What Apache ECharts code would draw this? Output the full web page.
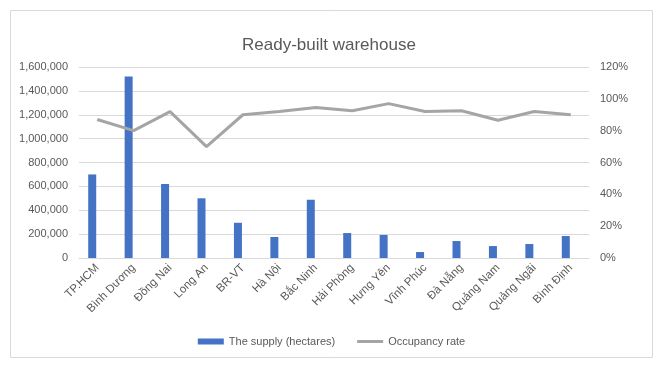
<!DOCTYPE html>
<html>
<head>
<meta charset="utf-8">
<script src="https://cdn.jsdelivr.net/npm/echarts@6/dist/echarts.min.js"></script>
<style>html,body{margin:0;padding:0;background:#fff}#c{width:663px;height:368px}</style>
</head>
<body>
<div id="c"></div>
<script>
var categories = ["TP.HCM","Bình Dương","Đồng Nai","Long An","BR-VT","Hà Nội","Bắc Ninh","Hải Phòng","Hưng Yên","Vĩnh Phúc","Đà Nẵng","Quảng Nam","Quảng Ngãi","Bình Định"];
var supply = [700000,1520000,620000,500000,295000,176000,488000,209000,193000,50000,142000,100000,117000,184000];
var occupancy = [0.87,0.80,0.92,0.70,0.90,0.92,0.945,0.925,0.97,0.92,0.925,0.865,0.92,0.90];
var leftTicks = {min:0, max:1600000, interval:200000};
var rightTicks = {min:0, max:1.2, interval:0.2};

var chart = echarts.init(document.getElementById('c'));
var font = '"Liberation Sans", "Noto Sans", sans-serif';
chart.setOption({
  animation:false,
  textStyle:{fontFamily:font},
  graphic:[{type:'rect',shape:{x:10.5,y:10.5,width:642,height:347},style:{fill:'none',stroke:'#d9d9d9',lineWidth:1}}],
  title:{text:'Ready-built warehouse',left:237,top:32,textStyle:{fontFamily:font,fontSize:17,fontWeight:'normal',color:'#595959'}},
  legend:{bottom:16,left:'center',itemGap:22,itemWidth:26,itemHeight:6,textStyle:{fontFamily:font,fontSize:11,color:'#595959'},
    data:[{name:'The supply (hectares)',icon:'rect'},{name:'Occupancy rate',icon:'path://M0,0H26V3H0Z'}]},
  grid:{left:79,right:74,top:67,bottom:110},
  xAxis:{type:'category',data:categories,axisTick:{show:false},
    axisLine:{lineStyle:{color:'#d9d9d9'}},
    axisLabel:{rotate:45,color:'#595959',fontSize:11.5,margin:8,interval:0}},
  yAxis:[
    {type:'value',min:leftTicks.min,max:leftTicks.max,interval:leftTicks.interval,
     axisLabel:{color:'#595959',fontSize:11,margin:11,formatter:function(v){return v.toLocaleString('en-US');}},
     splitLine:{lineStyle:{color:'#d9d9d9'}},axisLine:{show:false},axisTick:{show:false}},
    {type:'value',min:rightTicks.min,max:rightTicks.max,interval:rightTicks.interval,
     axisLabel:{color:'#595959',fontSize:11,margin:11,formatter:function(v){return Math.round(v*100)+'%';}},
     splitLine:{show:false},axisLine:{show:false},axisTick:{show:false}}
  ],
  series:[
    {name:'The supply (hectares)',type:'bar',data:supply,barWidth:8,barGap:'25%',itemStyle:{color:'#4472C4'}},
    {name:'_spacer',type:'bar',data:[],barWidth:8,silent:true},
    {name:'Occupancy rate',type:'line',yAxisIndex:1,data:occupancy,symbol:'none',lineStyle:{color:'#A5A5A5',width:3},itemStyle:{color:'#A5A5A5'}}
  ]
});
</script>
</body>
</html>
